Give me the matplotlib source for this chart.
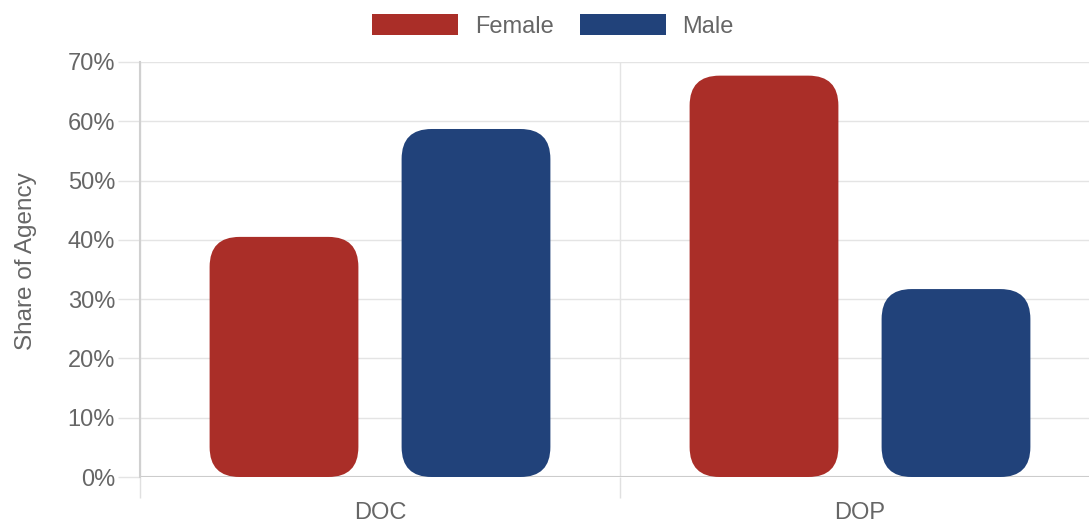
import matplotlib.pyplot as plt
from matplotlib.patches import FancyBboxPatch, Patch
import numpy as np

# Chart data
categories = ["DOC", "DOP"]
female = [40.5, 67.7]
male = [58.7, 31.7]
series_names = ["Female", "Male"]

red = "#AA2E28"
blue = "#21427A"
text_grey = "#666666"

plt.rcParams['font.family'] = ['Liberation Sans', 'DejaVu Sans']

fig = plt.figure(figsize=(10.89, 5.29), dpi=100)
ax = fig.add_axes([140 / 1089, 52 / 529, 960 / 1089, 415 / 529])
ax.set_xlim(-0.5, len(categories) - 0.5)
ax.set_ylim(0, 70)

# Rounded bars: radius ~30 px in both directions
bar_w = 0.31
offset = 0.2
r = 30 / 480
asp = (30 / 5.93) / r
x = np.arange(len(categories))
for vals, col, dx in [(female, red, -offset), (male, blue, offset)]:
    for xi, v in zip(x, vals):
        p = FancyBboxPatch((xi + dx - bar_w / 2, 0), bar_w, v,
                           boxstyle=f"round,pad=0,rounding_size={r}",
                           mutation_aspect=asp, fc=col, ec="none", zorder=3)
        ax.add_patch(p)

# Grid and axes
yt = np.arange(0, 71, 10)
ax.set_yticks(yt)
ax.set_yticklabels([f"{v}%" for v in yt])
ax.yaxis.grid(True, color="#e4e4e4", lw=1, zorder=0)
ax.axhline(0, color="#cccccc", lw=1.5, zorder=2)
ax.set_xticks(np.arange(len(categories) + 1) - 0.5)
ax.set_xticklabels([])
ax.xaxis.grid(True, color="#e4e4e4", lw=1, zorder=0)
ax.set_xticks(x, minor=True)
ax.set_xticklabels(categories, minor=True)
ax.tick_params(axis="x", which="major", length=15, color="#e0e0e0", width=1)
ax.tick_params(axis="x", which="minor", length=0, pad=18, labelsize=17, labelcolor=text_grey)
ax.tick_params(axis="y", length=16, color="#e4e4e4", width=1, pad=2, labelsize=17, labelcolor=text_grey)
for s in ["top", "right", "bottom"]:
    ax.spines[s].set_visible(False)
ax.spines["left"].set_color("#d0d0d0")
ax.spines["left"].set_linewidth(1.5)
ax.spines["left"].set_bounds(0, 70)

ax.set_ylabel("Share of Agency", fontsize=17.5, color=text_grey)
ax.yaxis.set_label_coords(-0.107, 0.52)

handles = [Patch(fc=red, ec="none"), Patch(fc=blue, ec="none")]
fig.legend(handles, series_names, loc="center", bbox_to_anchor=(553 / 1089, 1 - 26 / 529),
           ncol=2, frameon=False, fontsize=17, handlelength=3.65, handleheight=1.0,
           handletextpad=0.7, columnspacing=1.1, labelcolor=text_grey)

fig.savefig("out.png", dpi=100)
